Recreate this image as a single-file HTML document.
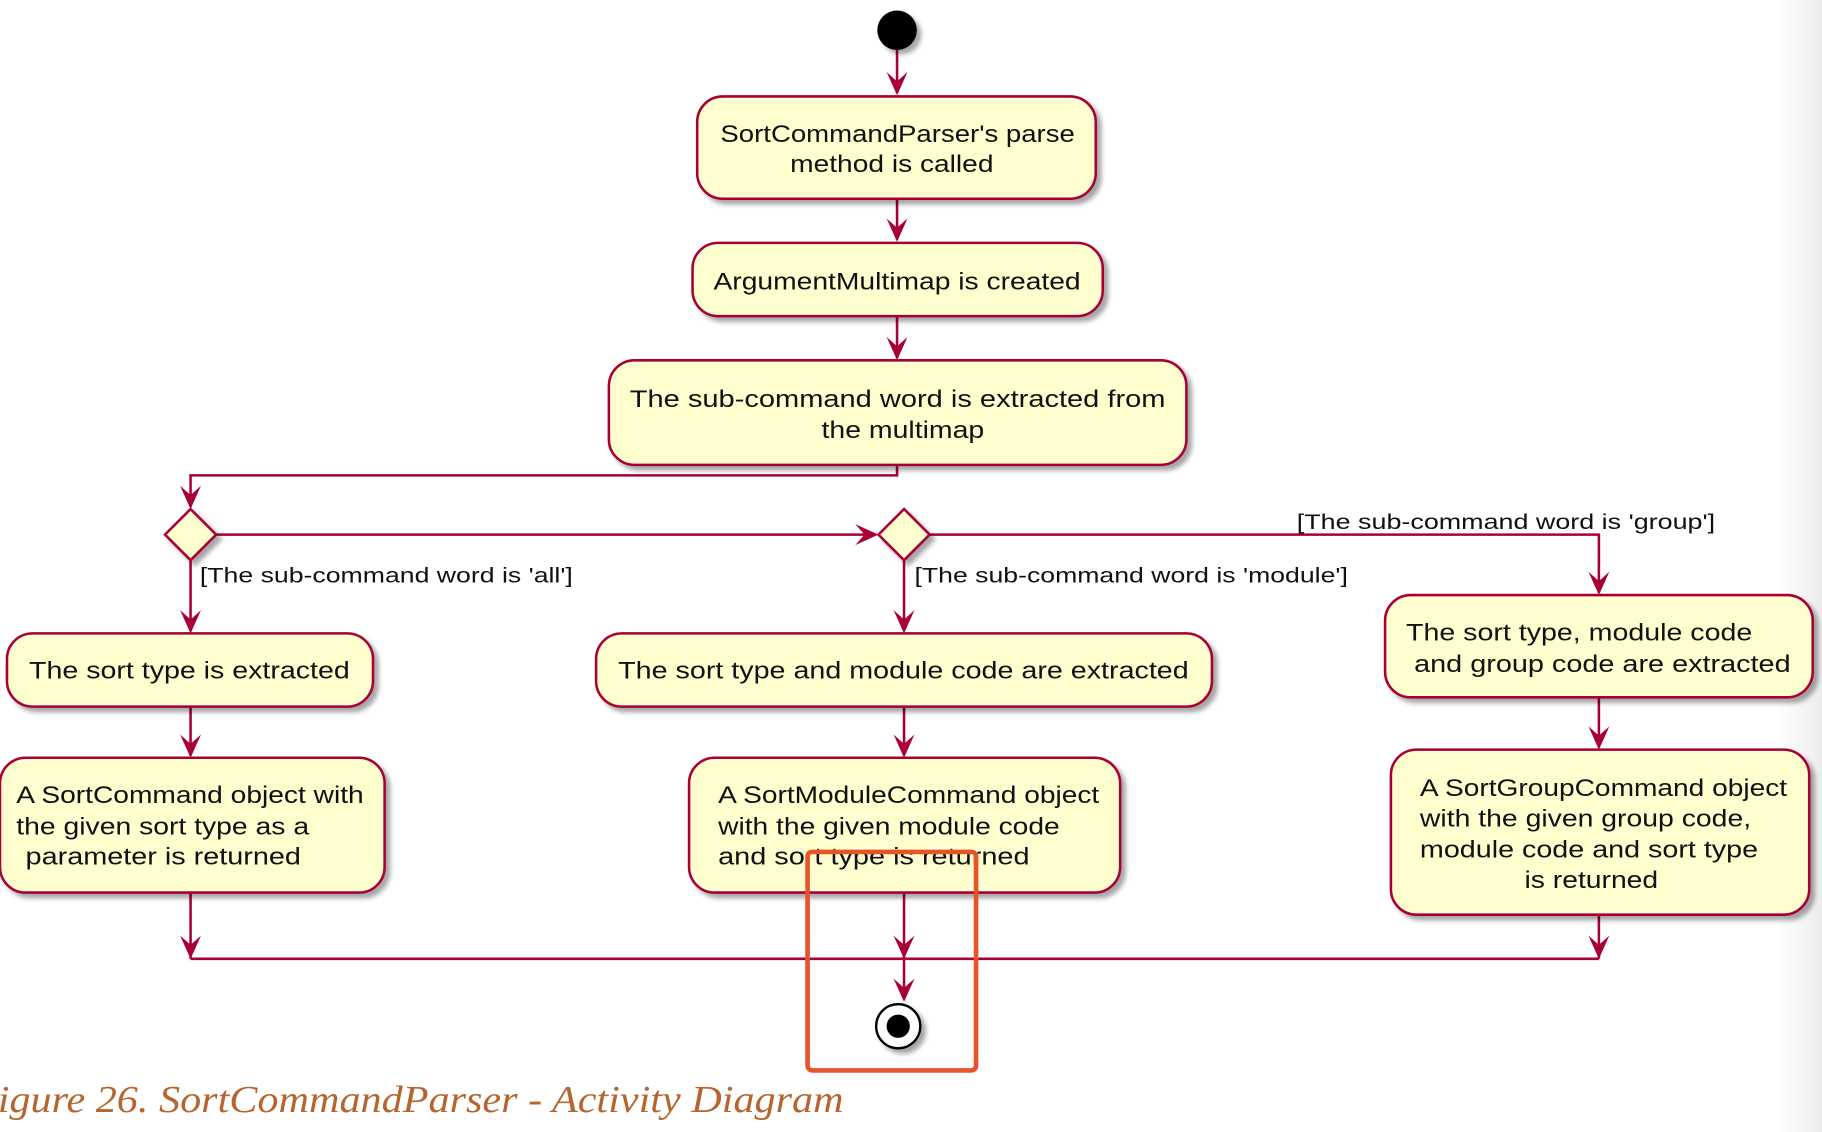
<!DOCTYPE html>
<html><head><meta charset="utf-8"><style>
html,body{margin:0;padding:0;background:#fff;width:1822px;height:1132px;overflow:hidden}
svg{display:block}
</style></head><body>
<svg width="1822" height="1132" viewBox="0 0 1568 974" preserveAspectRatio="none" xmlns="http://www.w3.org/2000/svg">
<defs>
<linearGradient id="edge" x1="0" x2="1" y1="0" y2="0">
<stop offset="0" stop-color="#ffffff"/><stop offset="1" stop-color="#ececec"/>
</linearGradient>
<filter id="sh" x="-10%" y="-10%" width="130%" height="140%">
<feGaussianBlur in="SourceAlpha" stdDeviation="2"/><feOffset dx="4" dy="4"/>
<feComponentTransfer><feFuncA type="linear" slope="0.35"/></feComponentTransfer>
<feMerge><feMergeNode/><feMergeNode in="SourceGraphic"/></feMerge>
</filter>
</defs>
<rect x="1530" y="0" width="38" height="974" fill="url(#edge)"/>
<g stroke="#a80036" stroke-width="2.2" fill="none">
<line x1="772" y1="43" x2="772" y2="80"/>
<line x1="772" y1="171" x2="772" y2="206"/>
<line x1="772" y1="272" x2="772" y2="308"/>
<polyline points="772,400 772,409 164,409 164,436"/>
<line x1="186" y1="460" x2="754" y2="460"/>
<polyline points="800,460 1376,460 1376,510"/>
<line x1="164" y1="482" x2="164" y2="543"/>
<line x1="778" y1="482" x2="778" y2="543"/>
<line x1="164" y1="608" x2="164" y2="650"/>
<line x1="778" y1="608" x2="778" y2="650"/>
<line x1="1376" y1="600" x2="1376" y2="643"/>
<line x1="164" y1="768" x2="164" y2="825"/>
<line x1="778" y1="768" x2="778" y2="825"/>
<line x1="1376" y1="787" x2="1376" y2="825"/>
<line x1="164" y1="825" x2="1376" y2="825"/>
<line x1="778" y1="825" x2="778" y2="860"/>
</g>
<g fill="#a80036">
<path d="M772,82 l-9,-20 l9,8 l9,-8z"/>
<path d="M772,208 l-9,-20 l9,8 l9,-8z"/>
<path d="M772,310 l-9,-20 l9,8 l9,-8z"/>
<path d="M164,438 l-9,-20 l9,8 l9,-8z"/>
<path d="M756,460 l-20,-9 l8,9 l-8,9z"/>
<path d="M1376,512 l-9,-20 l9,8 l9,-8z"/>
<path d="M164,545 l-9,-20 l9,8 l9,-8z"/>
<path d="M778,545 l-9,-20 l9,8 l9,-8z"/>
<path d="M164,652 l-9,-20 l9,8 l9,-8z"/>
<path d="M778,652 l-9,-20 l9,8 l9,-8z"/>
<path d="M1376,645 l-9,-20 l9,8 l9,-8z"/>
<path d="M164,825 l-9,-20 l9,8 l9,-8z"/>
<path d="M778,825 l-9,-20 l9,8 l9,-8z"/>
<path d="M1376,825 l-9,-20 l9,8 l9,-8z"/>
<path d="M778,862 l-9,-20 l9,8 l9,-8z"/>
</g>
<g filter="url(#sh)">
<circle cx="772" cy="26" r="17" fill="#000"/>
<g fill="#fefece" stroke="#a80036" stroke-width="2.2">
<rect x="600" y="83" width="343" height="88" rx="22"/>
<rect x="596" y="209" width="353" height="63" rx="22"/>
<rect x="524" y="310" width="497" height="90" rx="22"/>
<path d="M164,438 L186,460 L164,482 L142,460Z"/>
<path d="M778,438 L800,460 L778,482 L756,460Z"/>
<rect x="6" y="545" width="315" height="63" rx="22"/>
<rect x="0" y="652" width="331" height="116" rx="22"/>
<rect x="513" y="545" width="530" height="63" rx="22"/>
<rect x="593" y="652" width="371" height="116" rx="22"/>
<rect x="1192" y="512" width="368" height="88" rx="22"/>
<rect x="1197" y="645" width="360" height="142" rx="22"/>
</g>
<circle cx="773" cy="883" r="19" fill="#fff" stroke="#000" stroke-width="2"/>
</g>
<circle cx="773" cy="883" r="10" fill="#000"/>
<g font-family="'Liberation Sans', sans-serif" font-size="21" fill="#111" lengthAdjust="spacingAndGlyphs">
<text x="620" y="122" textLength="305" lengthAdjust="spacingAndGlyphs">SortCommandParser's parse</text>
<text x="680" y="148" textLength="175" lengthAdjust="spacingAndGlyphs">method is called</text>
<text x="614" y="249" textLength="316" lengthAdjust="spacingAndGlyphs">ArgumentMultimap is created</text>
<text x="542" y="350" textLength="461" lengthAdjust="spacingAndGlyphs">The sub-command word is extracted from</text>
<text x="707" y="377" textLength="140" lengthAdjust="spacingAndGlyphs">the multimap</text>
<text x="25" y="584" textLength="276" lengthAdjust="spacingAndGlyphs">The sort type is extracted</text>
<text x="14" y="691" textLength="299" lengthAdjust="spacingAndGlyphs">A SortCommand object with</text>
<text x="14" y="718" textLength="252" lengthAdjust="spacingAndGlyphs">the given sort type as a</text>
<text x="22" y="744" textLength="237" lengthAdjust="spacingAndGlyphs">parameter is returned</text>
<text x="532" y="584" textLength="491" lengthAdjust="spacingAndGlyphs">The sort type and module code are extracted</text>
<text x="618" y="691" textLength="328" lengthAdjust="spacingAndGlyphs">A SortModuleCommand object</text>
<text x="618" y="718" textLength="294" lengthAdjust="spacingAndGlyphs">with the given module code</text>
<text x="618" y="744" textLength="268" lengthAdjust="spacingAndGlyphs">and sort type is returned</text>
<text x="1210" y="551" textLength="298" lengthAdjust="spacingAndGlyphs">The sort type, module code</text>
<text x="1217" y="578" textLength="324" lengthAdjust="spacingAndGlyphs">and group code are extracted</text>
<text x="1222" y="685" textLength="316" lengthAdjust="spacingAndGlyphs">A SortGroupCommand object</text>
<text x="1222" y="711" textLength="285" lengthAdjust="spacingAndGlyphs">with the given group code,</text>
<text x="1222" y="738" textLength="291" lengthAdjust="spacingAndGlyphs">module code and sort type</text>
<text x="1312" y="764" textLength="115" lengthAdjust="spacingAndGlyphs">is returned</text>
</g>
<g font-family="'Liberation Sans', sans-serif" font-size="18" fill="#111">
<text x="172" y="501" textLength="321" lengthAdjust="spacingAndGlyphs">[The sub-command word is 'all']</text>
<text x="787" y="501" textLength="373" lengthAdjust="spacingAndGlyphs">[The sub-command word is 'module']</text>
<text x="1116" y="455" textLength="360" lengthAdjust="spacingAndGlyphs">[The sub-command word is 'group']</text>
</g>
<rect x="695" y="733" width="145" height="188" rx="4" fill="none" stroke="#e8542a" stroke-width="4"/>
<text x="-2" y="957" font-family="'Liberation Serif', serif" font-style="italic" font-size="33" fill="#b5652d" textLength="728" lengthAdjust="spacingAndGlyphs">igure 26. SortCommandParser - Activity Diagram</text>
</svg>
</body></html>
